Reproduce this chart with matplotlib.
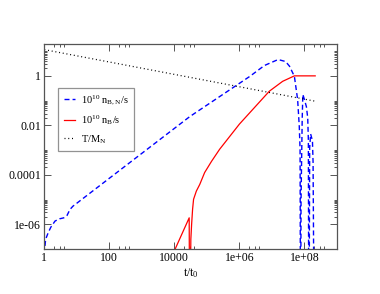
import numpy as np
import matplotlib.pyplot as plt
from matplotlib.ticker import FixedLocator, NullFormatter

plt.rcParams['font.family'] = ['Liberation Serif', 'DejaVu Serif']
plt.rcParams['mathtext.fontset'] = 'custom'
plt.rcParams['mathtext.rm'] = 'Liberation Serif'
plt.rcParams['mathtext.it'] = 'Liberation Serif'

# values, as log10(t/t0) and log10(y)
blue_logt = [0.0, 0.04, 0.12, 0.2, 0.33, 0.47, 0.6, 0.7, 0.79, 0.88, 4.47, 6.32, 6.77,
             7.19, 7.42, 7.54, 7.69, 7.79, 7.84, 7.865, 7.875, 7.885, 7.895, 7.93, 7.95,
             8.0, 8.06, 8.1, 8.12, 8.13, 8.145, 8.16, 8.19, 8.22, 8.245, 8.265, 8.29]
blue_logy = [-7.2, -6.61, -6.34, -6.12, -5.87, -5.78, -5.74, -5.64, -5.40, -5.27, -1.65,
             -0.02, 0.42, 0.66, 0.58, 0.39, -0.02, -0.96, -2.03, -2.97, -9.0, -9.0, -5.0,
             -1.77, -0.75, -0.96, -1.25, -1.70, -2.6, -9.0, -9.0, -2.9, -2.35, -2.5, -2.6,
             -3.5, -9.0]

red_logt = [3.99, 4.455, 4.465, 4.49, 4.506, 4.53, 4.56, 4.59, 4.675, 4.78, 4.93, 5.14,
            5.39, 6.0, 6.92, 7.33, 7.69, 8.33]
red_logy = [-7.1, -5.74, -9.0, -9.0, -6.61, -6.0, -5.39, -4.99, -4.66, -4.39, -3.91,
            -3.46, -2.97, -1.95, -0.62, -0.22, 0.0, 0.0]

dot_t = [1.0, 2.1e8]
dot_y = [11.5, 0.095]

xticks = [1, 1e2, 1e4, 1e6, 1e8]
xlabels = ['1', '100', '10000', '1e+06', '1e+08']
yticks = [1e-6, 1e-4, 1e-2, 1]
ylabels = ['1e-06', '0.0001', '0.01', '1']

fig = plt.figure(figsize=(3.8, 2.94), dpi=100)
ax = fig.add_axes([0.1166, 0.1531, 0.7702, 0.6983])

ax.plot(10 ** np.array(blue_logt), 10 ** np.array(blue_logy), color='#0000ff',
        lw=1.0, dashes=(3.6, 2.2), label=r'$\mathrm{10^{10}\ n_{B,N}/s}$')
ax.plot(10 ** np.array(red_logt), 10 ** np.array(red_logy), color='#ff0000',
        lw=0.9, label=r'$\mathrm{10^{10}\ n_{B}/s}$')
ax.plot(dot_t, dot_y, color='black', lw=0.9, dashes=(0.8, 2.2), label=r'$\mathrm{T/M_{N}}$')

ax.set_xscale('log')
ax.set_yscale('log')
ax.set_xlim(1, 1e9)
ax.set_ylim(1e-7, 20)

ax.xaxis.set_major_locator(FixedLocator(xticks))
ax.set_xticklabels(xlabels)
ax.xaxis.set_minor_locator(FixedLocator([k * 10.0 ** (2 * n) for n in range(5) for k in (2, 3, 4)]))
ax.xaxis.set_minor_formatter(NullFormatter())
ax.yaxis.set_major_locator(FixedLocator(yticks))
ax.set_yticklabels(ylabels)
ax.yaxis.set_minor_locator(FixedLocator([k * 10.0 ** (2 * n) for n in range(-4, 1) for k in range(2, 11)]))
ax.yaxis.set_minor_formatter(NullFormatter())

for s in ax.spines.values():
    s.set_color('#555555')
    s.set_linewidth(0.9)
ax.tick_params(which='both', direction='in', top=True, right=True, colors='#555555',
               labelcolor='black', labelsize=8.5, width=0.7, pad=2.5)
ax.tick_params(which='major', length=5)
ax.tick_params(which='minor', length=2.5)

ax.set_xlabel(r'$\mathrm{t/t_0}$', fontsize=8.5, labelpad=1)

leg = ax.legend(loc='upper left', bbox_to_anchor=(0.048, 0.786), fontsize=7.5,
                frameon=True, fancybox=False, handlelength=1.1, handletextpad=0.6,
                borderpad=0.5, labelspacing=0.6, borderaxespad=0)
leg.get_frame().set_edgecolor('#777777')
leg.get_frame().set_linewidth(0.9)

fig.savefig('out.png', dpi=100)
